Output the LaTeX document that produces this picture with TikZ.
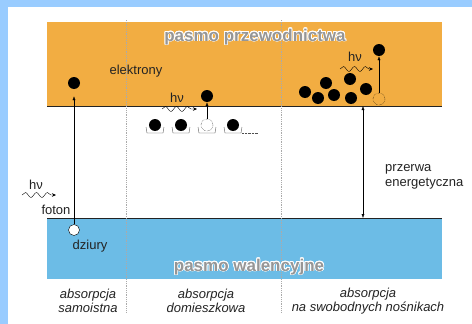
\documentclass[tikz,border=0pt]{standalone}
\usepackage{fontspec}
\setmainfont{Liberation Sans}
\usepackage{contour}
\usepackage{tikz}
\usetikzlibrary{arrows.meta,decorations.pathmorphing}
\definecolor{Frame}{RGB}{153,204,255}
\definecolor{CondBand}{RGB}{242,173,66}
\definecolor{ValBand}{RGB}{108,188,230}
\definecolor{TitleGray}{RGB}{150,150,150}
\definecolor{Ink}{RGB}{35,35,35}
\definecolor{Guide}{RGB}{170,170,170}
\contourlength{0.7pt}
\tikzset{
  electron/.style={circle,fill=black,inner sep=0pt,minimum size=12pt},
  hole/.style={circle,draw=black,fill=white,inner sep=0pt,minimum size=11pt},
  emptyhole/.style={circle,draw=black,densely dotted,inner sep=0pt,minimum size=12pt},
  photon/.style={-{Stealth[length=4pt,width=3.5pt]},decorate,
    decoration={snake,amplitude=2.5pt,segment length=11pt,post length=4pt}},
  jump/.style={-{Latex[length=4pt,width=3pt]}},
  gap/.style={{Latex[length=4pt,width=3pt]}-{Latex[length=4pt,width=3pt]}},
  bandname/.style={font=\fontsize{17}{17}\selectfont\bfseries,text=TitleGray},
  lbl/.style={font=\fontsize{13}{15}\selectfont,text=Ink,inner sep=0pt},
  caption/.style={font=\fontsize{13}{14}\selectfont\itshape,text=Ink,align=center,inner sep=0pt},
}

\begin{document}
\begin{tikzpicture}[x=1pt,y=-1pt]
  \useasboundingbox (0,0) rectangle (472,324);
  \fill[Frame] (0,0) rectangle (472,324);
  \fill[white] (8,7) rectangle (472,324);

  % bands
  \fill[CondBand] (47,22) rectangle (442,106);
  \draw[Ink,semithick] (47,106) -- (442,106);
  \fill[ValBand] (47,218) rectangle (442,279);
  \draw[Ink,semithick] (47,218) -- (442,218);

  % column separators
  \draw[Guide,densely dotted,thick] (126,20) -- (126,313);
  \draw[Guide,densely dotted,thick] (281,20) -- (281,313);

  \node[bandname] (cbname) at (255,37) {\contour{white}{pasmo przewodnictwa}};
  \node[bandname] (vbname) at (249,267) {\contour{white}{pasmo walencyjne}};

  % absorpcja samoistna
  \node[electron] (e1) at (74,83) {};
  \node[hole] (h1) at (74,230) {};
  \draw[jump,shorten >=7pt] (h1) -- (e1);
  \node[lbl] (elek) at (136,71) {elektrony};
  \node[lbl] (dziury) at (90,246) {dziury};
  \node[lbl] (hv1) at (36,185) {hν};
  \coordinate (p1a) at (22,195);
  \coordinate (p1b) at (56,195);
  \draw[photon] (p1a) -- (p1b);
  \node[lbl] (foton) at (56,210) {foton};

  % absorpcja domieszkowa
  \foreach \x/\n in {155/d1,181/d2,233/d4}
    \node[electron] (\n) at (\x,125) {};
  \node[emptyhole] (d3) at (207,125) {};
  \foreach \x in {155,181,207,233}
    \draw[Ink!80] (\x-9,127) -- (\x-8,133) -- (\x+8,133) -- (\x+9,127);
  \draw[Ink!80,densely dotted] (242,133) -- (258,133);
  \node[electron] (e2) at (207,96) {};
  \draw[jump] (d3) -- (e2);
  \node[lbl] (hv2) at (177,98) {hν};
  \coordinate (p2a) at (162,109);
  \coordinate (p2b) at (197,109);
  \draw[photon] (p2a) -- (p2b);

  % absorpcja na swobodnych nosnikach
  \foreach \x/\y in {305/92,318/98,326/83,334/95,350/79,351/98,366/89}
    \node[electron] at (\x,\y) {};
  \node[emptyhole] (f0) at (379,99) {};
  \node[electron] (e3) at (379,50) {};
  \draw[jump] (f0) -- (e3);
  \node[lbl] (hv3) at (355,57) {hν};
  \coordinate (p3a) at (340,69);
  \coordinate (p3b) at (373,69);
  \draw[photon] (p3a) -- (p3b);

  % przerwa
  \coordinate (gtop) at (363,106);
  \coordinate (gbot) at (363,218);
  \draw[gap] (gtop) -- (gbot);
  \node[lbl,anchor=west,align=left] (przerwa) at (385,177) {przerwa\\energetyczna};

  \node[caption] (c1) at (88,301) {absorpcja\\samoistna};
  \node[caption] (c2) at (206,301) {absorpcja\\domieszkowa};
  \node[caption] (c3) at (368,301) {absorpcja\\na swobodnych nośnikach};
\end{tikzpicture}
\end{document}
